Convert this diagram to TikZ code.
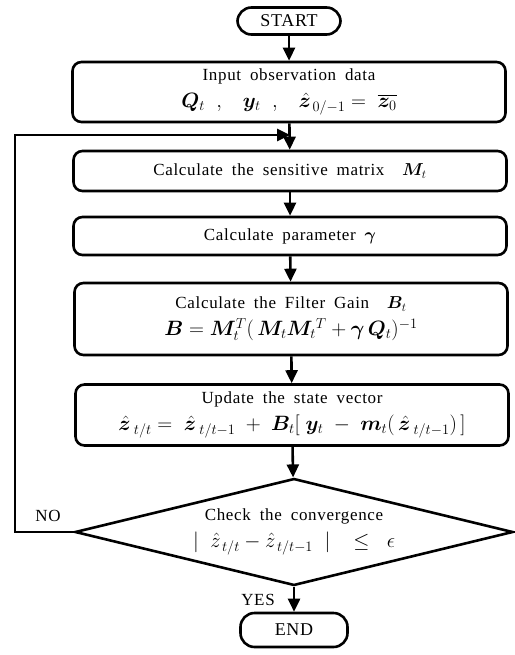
\documentclass[tikz,border=0pt]{standalone}
\usepackage{fontspec}
\setmainfont{Liberation Serif}[LetterSpace=4, WordSpace=1.8]
\usepackage{amsmath}
\usepackage{bm}
\usepackage{tikz}
\usetikzlibrary{shapes.geometric, arrows.meta, positioning}
\newcommand{\eqline}[1]{{\fontsize{20}{26}\selectfont$#1$}}

\begin{document}
\begin{tikzpicture}[
    x=1pt, y=-1pt,
    stepbox/.style={
        draw, line width=2.6pt,
        rectangle, rounded corners=9pt,
        inner sep=3pt, align=center,
        font=\fontsize{17}{27}\selectfont, minimum width=433pt,
    },
    term/.style={
        draw, line width=2.6pt,
        rectangle, rounded corners=14pt,
        inner sep=2pt, align=center,
        font=\fontsize{18}{20}\selectfont,
    },
    check/.style={
        draw, line width=2.6pt,
        diamond, aspect=4, inner sep=0pt, align=center,
        font=\fontsize{17}{27}\selectfont,
        minimum width=438pt, minimum height=107pt,
    },
    arr/.style={
        -{Triangle[length=13pt, width=12pt]}, line width=2.6pt
    },
    lbl/.style={font=\fontsize{17}{20}\selectfont},
]
\useasboundingbox (0,0) rectangle (514,655);

\node[term, minimum width=103pt, minimum height=27pt] (start) at (289,21) {START};
\node[stepbox, minimum height=60pt] (inp) at (289,92)
    {Input observation data\\
     \eqline{\bm{Q}_t\;\;,\;\;\;\bm{y}_t\;\;,\;\;\;\hat{\bm{z}}_{\,0/-1}=\;\overline{\bm{z}_0}}};
\node[stepbox, minimum height=40pt] (sens) at (290,171)
    {Calculate the sensitive matrix \ $\bm{M}_t$};
\node[stepbox, minimum height=38pt] (par) at (290,236)
    {Calculate parameter $\bm{\gamma}$};
\node[stepbox, minimum height=72pt] (gain) at (291,319)
    {Calculate the Filter Gain \ $\bm{B}_t$\\
     \eqline{\bm{B}=\bm{M}_t^T(\,\bm{M}_t\bm{M}_t{}^T+\bm{\gamma}\,\bm{Q}_t)^{-1}}};
\node[stepbox, minimum height=61pt] (upd) at (292,415)
    {Update the state vector\\
     \eqline{\hat{\bm{z}}_{\;t/t}=\;\hat{\bm{z}}_{\;t/t-1}\;+\;\bm{B}_t[\;\bm{y}_t\;-\;\bm{m}_t(\,\hat{\bm{z}}_{\;t/t-1})\,]}};
\node[check] (chk) at (294,532)
    {Check the convergence\\
     \eqline{|\;\;\hat{z}_{\,t/t}-\hat{z}_{\,t/t-1}\;\;|\;\;\;\le\;\;\epsilon}};
\node[term, minimum width=107pt, minimum height=34pt] (stop) at (294,630) {END};

\node[lbl] (no) at (48,516) {NO};
\node[lbl] (yes) at (258,600) {YES};

\coordinate (join) at (290,135);
\coordinate (loopleft) at (15,135);

\draw[arr] (start) -- (inp);
\draw[arr] (inp) -- (sens);
\draw[arr] (sens) -- (par);
\draw[arr] (par) -- (gain);
\draw[arr] (gain) -- (upd);
\draw[arr] (upd) -- (chk);
\draw[arr] (chk) -- (stop);
\draw[arr] (chk.west) -| (loopleft) -- (join);
\end{tikzpicture}
\end{document}
